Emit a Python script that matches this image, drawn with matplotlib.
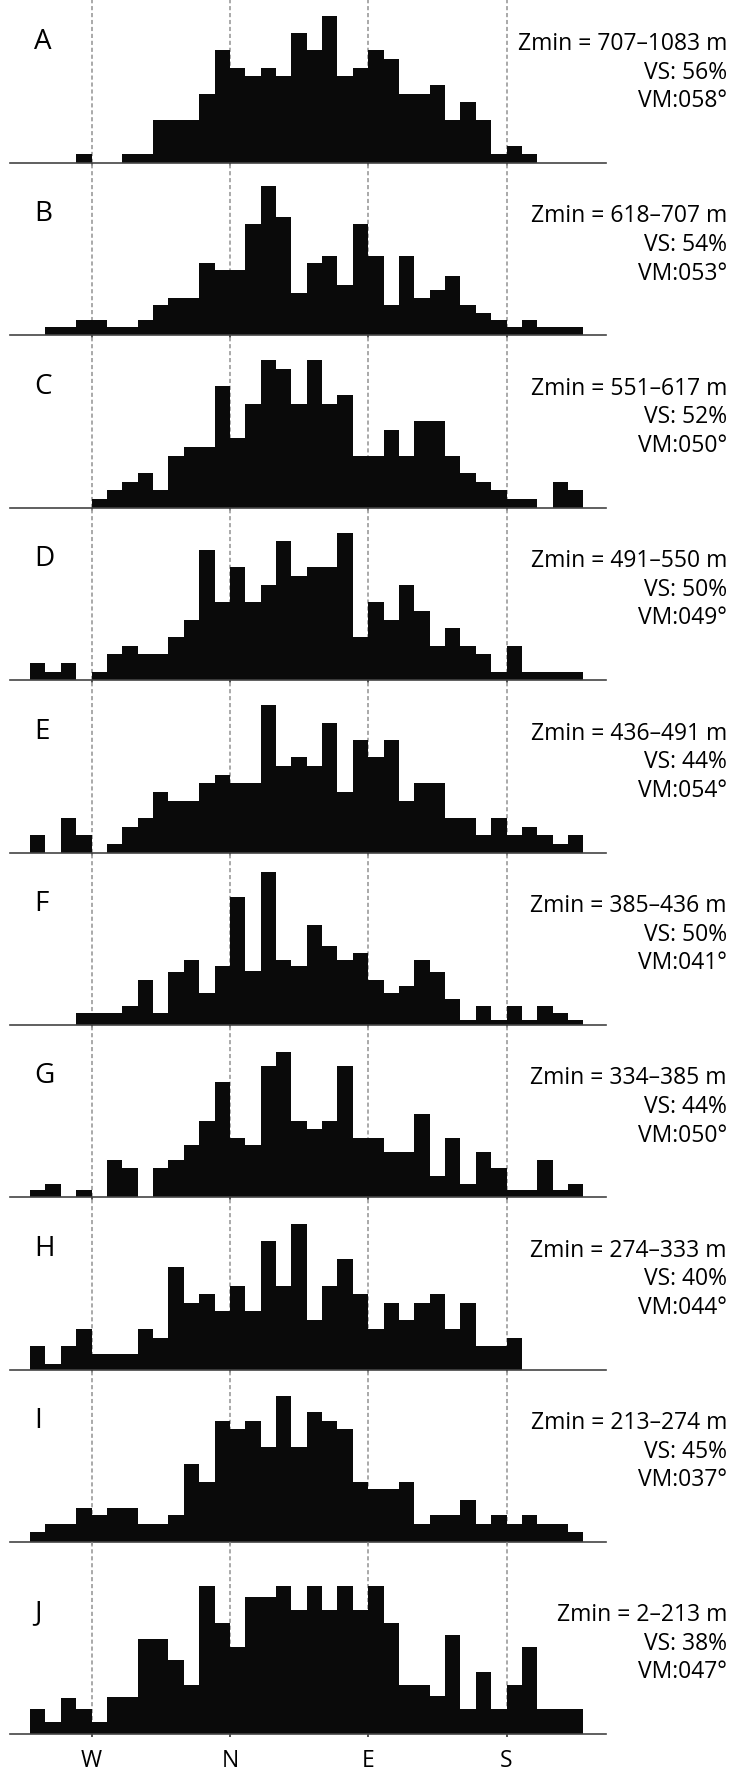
import numpy as np
import matplotlib.pyplot as plt

plt.rcParams['font.family'] = ['Open Sans', 'DejaVu Sans']
plt.rcParams['lines.scale_dashes'] = False

# 10 degree azimuth bins (left edges); W=-90, N=0, E=90, S=180
azimuth_bins = np.arange(-130, 230, 10)

panel_labels = ["A", "B", "C", "D", "E", "F", "G", "H", "I", "J"]
zmin_ranges = ["707–1083", "618–707", "551–617", "491–550", "436–491",
               "385–436", "334–385", "274–333", "213–274", "2–213"]
vs_pct = [56, 54, 52, 50, 44, 50, 44, 40, 45, 38]
vm_deg = [58, 53, 50, 49, 54, 41, 50, 44, 37, 47]

freq_a = [0, 0, 0, 1, 0, 0, 1, 1, 5, 5, 5, 8, 13, 11, 10, 11, 10, 15,
          13, 17, 10, 11, 13, 12, 8, 8, 9, 5, 7, 5, 1, 2, 1, 0, 0, 0]
freq_b = [0, 1.0, 1.0, 1.8, 1.8, 1.0, 1.0, 1.8, 3.5, 4.3, 4.3, 8.4, 7.5, 7.5, 12.9, 17.2, 13.7, 4.9,
          8.4, 9.2, 5.8, 12.9, 9.2, 3.5, 9.2, 4.3, 5.2, 6.9, 3.5, 2.6, 1.8, 1.0, 1.8, 1.0, 1.0, 1.0]
freq_c = [0, 0, 0, 0, 1, 2, 3, 4, 2, 6, 7, 7, 14, 8, 12, 17, 16, 12,
          17, 12, 13, 6, 6, 9, 6, 10, 10, 6, 4, 3, 2, 1, 1, 0, 3, 2]
freq_d = [2, 1, 2, 0, 1, 3, 4, 3, 3, 5, 7, 15, 9, 13, 9, 11, 16, 12,
          13, 13, 17, 5, 9, 7, 11, 8, 4, 6, 4, 3, 1, 4, 1, 1, 1, 1]
freq_e = [2, 0, 4, 2, 0, 1, 3, 4, 7, 6, 6, 8, 9, 8, 8, 17, 10, 11,
          10, 15, 7, 13, 11, 13, 6, 8, 8, 4, 4, 2, 4, 2, 3, 2, 1, 2]
freq_f = [0, 0, 0, 1.4, 1.4, 1.4, 2.2, 5.2, 1.4, 6.1, 7.5, 3.7, 6.8, 14.8, 6.2, 17.6, 7.5, 6.8,
          11.5, 9.1, 7.5, 8.3, 5.2, 3.7, 4.5, 7.5, 6.1, 3.0, 0.6, 2.2, 0.6, 2.2, 0.6, 2.2, 1.4, 0.6]
freq_g = [0.8, 1.6, 0, 0.8, 0, 4.3, 3.4, 0, 3.4, 4.3, 6.1, 8.8, 13.3, 6.9, 6.1, 15.2, 16.8, 8.8,
          7.9, 8.8, 15.2, 6.9, 6.9, 5.2, 5.2, 9.6, 2.5, 6.9, 1.6, 5.2, 3.4, 0.8, 0.8, 4.3, 0.8, 1.6]
freq_h = [2.7, 0.7, 2.7, 4.7, 1.8, 1.8, 1.8, 4.7, 3.7, 11.8, 7.7, 8.8, 6.8, 9.7, 6.8, 14.8, 9.7, 16.8,
          5.7, 9.7, 12.8, 8.8, 4.7, 7.7, 5.7, 7.7, 8.8, 4.7, 7.7, 2.7, 2.7, 3.7, 0, 0, 0, 0]
freq_i = [1.2, 2.1, 2.1, 3.9, 3.1, 3.9, 3.9, 2.1, 2.1, 3.1, 9.0, 7.0, 14.0, 13.0, 14.0, 11.0, 16.9, 11.0,
          15.0, 14.0, 13.0, 7.0, 6.1, 6.1, 7.0, 2.1, 3.1, 3.1, 4.9, 2.1, 3.1, 2.1, 3.1, 2.1, 2.1, 1.2]
freq_j = [2.9, 1.4, 4.2, 2.9, 1.4, 4.3, 4.3, 11.0, 11.0, 8.5, 5.7, 17.1, 12.8, 10.0, 15.8, 15.8, 17.1, 14.3,
          17.1, 14.3, 17.1, 14.3, 17.1, 12.8, 5.7, 5.7, 4.4, 11.4, 2.9, 7.2, 2.9, 5.7, 10.0, 2.9, 2.9, 2.9]
freqs = [freq_a, freq_b, freq_c, freq_d, freq_e, freq_f, freq_g, freq_h, freq_i, freq_j]

compass_ticks = [-90, 0, 90, 180]
compass_labels = ["W", "N", "E", "S"]

# layout in pixels
W, H = 731, 1774
baselines = [164 + 172.4 * k for k in range(9)] + [1735]
px_per_unit = 8.67

fig = plt.figure(figsize=(W / 100, H / 100), dpi=100)

for k, vals in enumerate(freqs):
    base = baselines[k]
    top = baselines[k - 1] if k > 0 else base - 172.4
    ax = fig.add_axes([9.5 / W, 1 - base / H, (606 - 9.5) / W, (base - top) / H])
    ax.set_xlim(-143.4, 244.7)
    ax.set_ylim(0, (base - top) / px_per_unit)
    ax.patch.set_visible(False)

    for x in compass_ticks:
        ax.axvline(x, color='#a3a3a3', lw=1.3, ls=(0, (3, 2)), zorder=1)
    ax.bar(azimuth_bins, vals, width=10, align='edge', color='#0a0a0a', linewidth=0, zorder=2)

    for s in ['top', 'left', 'right']:
        ax.spines[s].set_visible(False)
    ax.spines['bottom'].set_color('#444444')
    ax.spines['bottom'].set_linewidth(1.2)
    ax.spines['bottom'].set_zorder(3)
    ax.set_yticks([])
    ax.set_xticks(compass_ticks)
    ax.tick_params(axis='x', direction='out', length=2.4, width=1.2, color='#333333',
                   labelsize=16.5, pad=8)
    if k == len(freqs) - 1:
        ax.set_xticklabels(compass_labels)
    else:
        ax.set_xticklabels([])

    fig.text(34 / W, 1 - (base - 115) / H, panel_labels[k], fontsize=20, ha='left', va='baseline')
    fig.text(727 / W, 1 - (base - 114) / H, f"Zmin = {zmin_ranges[k]} m", fontsize=16.5,
             ha='right', va='baseline')
    fig.text(727 / W, 1 - (base - 85.4) / H, f"VS: {vs_pct[k]}%", fontsize=16.5,
             ha='right', va='baseline')
    fig.text(727 / W, 1 - (base - 56.8) / H, f"VM:{vm_deg[k]:03d}°", fontsize=16.5,
             ha='right', va='baseline')

fig.savefig('out.png', dpi=100)
